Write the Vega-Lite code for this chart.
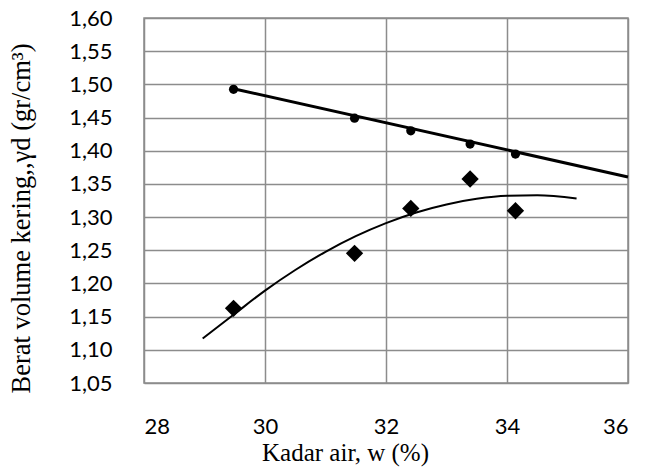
{
  "$schema": "https://vega.github.io/schema/vega-lite/v6.json",
  "width": 484,
  "height": 365,
  "autosize": "none",
  "padding": {"left": 144, "top": 18, "right": 18, "bottom": 87},
  "background": "white",
  "config": {
    "view": {"stroke": "#8c8c8c", "strokeWidth": 1.5},
    "axis": {"gridColor": "#8c8c8c", "gridWidth": 1.5, "gridOpacity": 1, "domain": false, "ticks": false}
  },
  "datasets": {
    "pts": [
      {"x": 29.48, "y": 1.4926, "s": "circle"},
      {"x": 31.48, "y": 1.449, "s": "circle"},
      {"x": 32.41, "y": 1.430, "s": "circle"},
      {"x": 33.39, "y": 1.410, "s": "circle"},
      {"x": 34.14, "y": 1.395, "s": "circle"},
      {"x": 29.48, "y": 1.1625, "s": "diamond"},
      {"x": 31.48, "y": 1.2454, "s": "diamond"},
      {"x": 32.41, "y": 1.313, "s": "diamond"},
      {"x": 33.39, "y": 1.3574, "s": "diamond"},
      {"x": 34.14, "y": 1.3096, "s": "diamond"}
    ],
    "trend": [
      {"x": 29.48, "y": 1.4935},
      {"x": 36.0, "y": 1.3605}
    ],
    "curve": [
      {"x": 28.97, "y": 1.117},
      {"x": 29.5, "y": 1.1543},
      {"x": 30.0, "y": 1.1892},
      {"x": 30.5, "y": 1.2203},
      {"x": 31.0, "y": 1.2477},
      {"x": 31.5, "y": 1.2713},
      {"x": 32.0, "y": 1.2910},
      {"x": 32.5, "y": 1.3070},
      {"x": 33.0, "y": 1.3191},
      {"x": 33.5, "y": 1.3275},
      {"x": 34.0, "y": 1.3321},
      {"x": 34.5, "y": 1.3328},
      {"x": 35.15, "y": 1.3281}
    ]
  },
  "encoding": {
    "x": {
      "field": "x", "type": "quantitative",
      "scale": {"domain": [28, 36], "nice": false, "zero": false},
      "axis": {
        "values": [28, 30, 32, 34, 36],
        "title": "Kadar air, w (%)",
        "titleFont": "Liberation Serif", "titleFontSize": 25, "titleFontWeight": "normal", "titleColor": "black",
        "titlePadding": 3,
        "titleX": 201, "titleAlign": "center",
        "labelFont": "Lato", "labelFontSize": 22, "labelColor": "black",
        "labelPadding": 33
      }
    },
    "y": {
      "field": "y", "type": "quantitative",
      "scale": {"domain": [1.05, 1.6], "nice": false, "zero": false},
      "axis": {
        "values": [1.05, 1.1, 1.15, 1.2, 1.25, 1.3, 1.35, 1.4, 1.45, 1.5, 1.55, 1.6],
        "labelExpr": "replace(format(datum.value, '.2f'), '.', ',')",
        "title": "Berat volume kering,,γd  (gr/cm³)",
        "titleFont": "Liberation Serif", "titleFontSize": 26.5, "titleFontWeight": "normal", "titleColor": "black",
        "titlePadding": 33,
        "titleY": 200, "titleAlign": "center",
        "labelFont": "Lato", "labelFontSize": 22, "labelColor": "black",
        "labelPadding": 32
      }
    }
  },
  "layer": [
    {
      "data": {"name": "trend"},
      "mark": {"type": "line", "color": "black", "strokeWidth": 3}
    },
    {
      "data": {"name": "curve"},
      "mark": {"type": "line", "color": "black", "strokeWidth": 2, "interpolate": "monotone"}
    },
    {
      "data": {"name": "pts"},
      "transform": [{"filter": "datum.s == 'circle'"}],
      "mark": {"type": "point", "shape": "circle", "filled": true, "color": "black", "size": 85, "opacity": 1}
    },
    {
      "data": {"name": "pts"},
      "transform": [{"filter": "datum.s == 'diamond'"}],
      "mark": {"type": "point", "shape": "diamond", "filled": true, "color": "black", "size": 300, "opacity": 1}
    }
  ]
}
